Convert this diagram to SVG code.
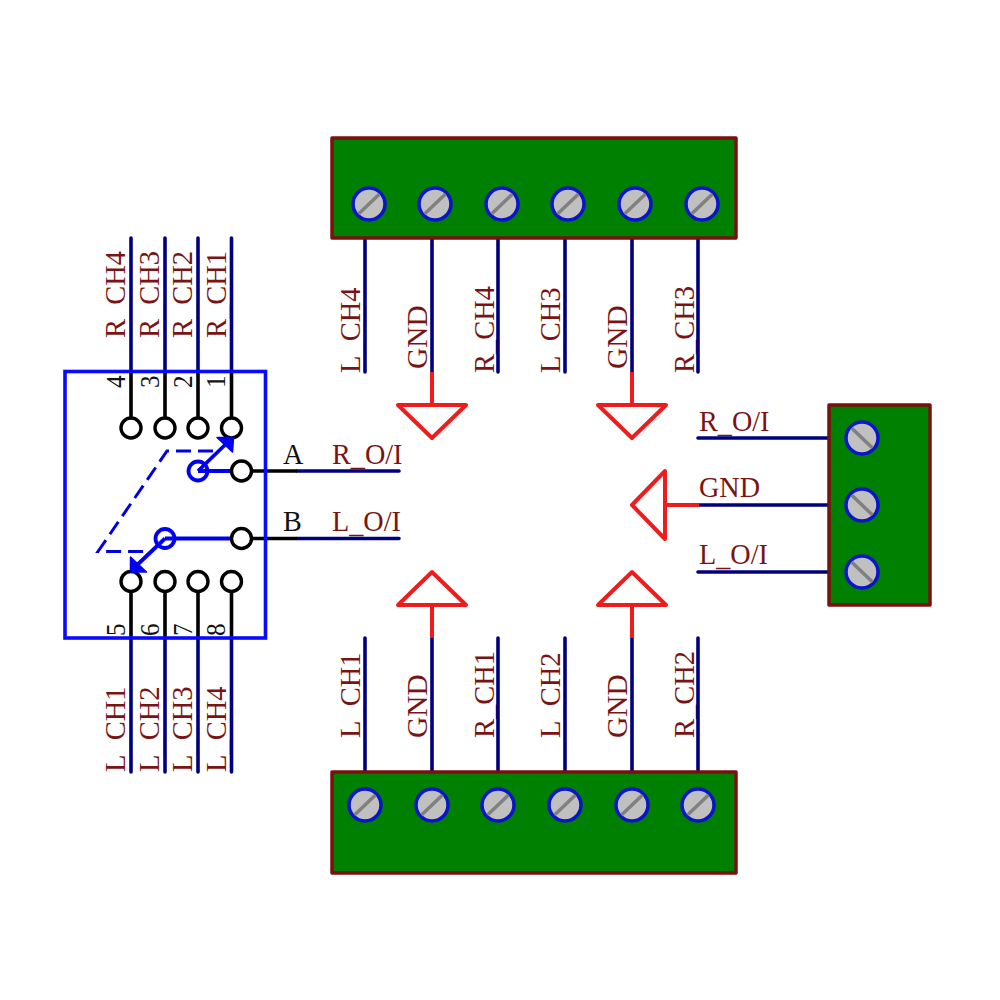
<svg xmlns="http://www.w3.org/2000/svg" width="1000" height="1000" viewBox="0 0 1000 1000">
<style>
text{font-family:"Liberation Serif","Times New Roman",serif;font-size:30px;fill:#7a1414}
.num{font-size:28px;fill:#111}
.blk{fill:#111}
.box{fill:#008000;stroke:#7a1010;stroke-width:3.5;stroke-linejoin:round}
.scr{fill:#c0c0c0;stroke:#0a14c8;stroke-width:3.5}
.sl{stroke:#808080;stroke-width:3.5;fill:none}
.w{stroke:#00007f;stroke-width:3.6;stroke-linecap:round;fill:none}
.r{stroke:#ee1c1c;stroke-width:4;fill:none;stroke-linejoin:round}
.k{stroke:#000;stroke-width:3.6;fill:none}
.pin{fill:#fff;stroke:#000;stroke-width:3.4}
.b{stroke:#0000f0;stroke-width:3.8;fill:none}
.bf{fill:#0000f0;stroke:#0000f0;stroke-width:1.5;stroke-linejoin:round}
.d{stroke:#0000e0;stroke-width:3;fill:none;stroke-dasharray:15 7}
</style>
<defs>
<g id="sa"><circle class="scr" r="16"/><path class="sl" d="M-10.500 10L10.500-10"/></g>
<g id="sb"><circle class="scr" r="16"/><path class="sl" d="M-10.500-10L10.500 10"/></g>
</defs>
<g id="labels">
<text transform="translate(125 338) rotate(-90) scale(.95 1)">R<tspan dy="3">_</tspan><tspan dy="-3">CH4</tspan></text>
<text transform="translate(159 338) rotate(-90) scale(.95 1)">R<tspan dy="3">_</tspan><tspan dy="-3">CH3</tspan></text>
<text transform="translate(192 338) rotate(-90) scale(.95 1)">R<tspan dy="3">_</tspan><tspan dy="-3">CH2</tspan></text>
<text transform="translate(226 338) rotate(-90) scale(.95 1)">R<tspan dy="2">_</tspan><tspan dy="-2">CH1</tspan></text>
<text transform="translate(125 772) rotate(-90) scale(.95 1)">L<tspan dy="3">_</tspan><tspan dy="-3">CH1</tspan></text>
<text transform="translate(159 772) rotate(-90) scale(.95 1)">L<tspan dy="3">_</tspan><tspan dy="-3">CH2</tspan></text>
<text transform="translate(192 772) rotate(-90) scale(.95 1)">L<tspan dy="3">_</tspan><tspan dy="-3">CH3</tspan></text>
<text transform="translate(226 772) rotate(-90) scale(.95 1)">L<tspan dy="2">_</tspan><tspan dy="-2">CH4</tspan></text>
<text transform="translate(360 373) rotate(-90) scale(.95 1)">L<tspan dy="1.500">_</tspan><tspan dy="-1.500">CH4</tspan></text>
<text transform="translate(427 369) rotate(-90) scale(.98 1)">GND</text>
<text transform="translate(494 373) rotate(-90) scale(.95 1)">R_CH4</text>
<text transform="translate(560 373) rotate(-90) scale(.95 1)">L<tspan dy="1.500">_</tspan><tspan dy="-1.500">CH3</tspan></text>
<text transform="translate(627 369) rotate(-90) scale(.98 1)">GND</text>
<text transform="translate(694 373) rotate(-90) scale(.95 1)">R_CH3</text>
<text transform="translate(360 738) rotate(-90) scale(.95 1)">L<tspan dy="1.500">_</tspan><tspan dy="-1.500">CH1</tspan></text>
<text transform="translate(427 738) rotate(-90) scale(.98 1)">GND</text>
<text transform="translate(494 738) rotate(-90) scale(.95 1)">R_CH1</text>
<text transform="translate(560 738) rotate(-90) scale(.95 1)">L<tspan dy="1.500">_</tspan><tspan dy="-1.500">CH2</tspan></text>
<text transform="translate(627 738) rotate(-90) scale(.98 1)">GND</text>
<text transform="translate(694 738) rotate(-90) scale(.95 1)">R_CH2</text>
<text transform="translate(332 464) scale(.94 1)">R<tspan dy="2">_</tspan><tspan dy="-2">O/I</tspan></text>
<text transform="translate(332 531) scale(.94 1)">L<tspan dy="2">_</tspan><tspan dy="-2">O/I</tspan></text>
<text transform="translate(699 431) scale(.94 1)">R<tspan dy="2">_</tspan><tspan dy="-2">O/I</tspan></text>
<text transform="translate(699 497) scale(.94 1)">GND</text>
<text transform="translate(699 564) scale(.94 1)">L<tspan dy="2">_</tspan><tspan dy="-2">O/I</tspan></text>
</g>
<g id="connectors">
<path class="w" d="M131 238V371M165 238V371M198 238V371M231.500 238V371M131 638V772M165 638V772M198 638V772M231.500 638V772"/>
<path class="w" d="M365 238V372M432 238V372M498 238V372M565 238V372M632 238V372M698 238V372"/>
<path class="w" d="M365 638V772M432 638V772M498 638V772M565 638V772M632 638V772M698 638V772"/>
<path class="w" d="M297 471H399M297 538.500H399M698 438H832M698 505H832M698 572H832"/>
<path class="r" id="gnd-stems" d="M432 372V405M632 372V405M432 605V638M632 605V638M665 505H699"/>
</g>
<g id="gnd-1"><path class="r" d="M398 405H466L432 438Z"/></g>
<g id="gnd-2"><path class="r" d="M598 405H666L632 438Z"/></g>
<g id="gnd-3"><path class="r" d="M398 605H466L432 572Z"/></g>
<g id="gnd-4"><path class="r" d="M598 605H666L632 572Z"/></g>
<g id="gnd-5"><path class="r" d="M665 471V539L632 505Z"/></g>
<g id="terminal-top">
<rect class="box" x="332" y="138" width="404" height="100"/>
<use href="#sa" x="369" y="204"/><use href="#sa" x="435" y="204"/><use href="#sa" x="502" y="204"/><use href="#sa" x="568" y="204"/><use href="#sa" x="635" y="204"/><use href="#sa" x="702" y="204"/>
</g>
<g id="terminal-bottom">
<rect class="box" x="332" y="772" width="404" height="101"/>
<use href="#sa" x="365" y="805"/><use href="#sa" x="432" y="805"/><use href="#sa" x="498" y="805"/><use href="#sa" x="565" y="805"/><use href="#sa" x="632" y="805"/><use href="#sa" x="698" y="805"/>
</g>
<g id="terminal-right">
<rect class="box" x="829" y="405" width="101" height="200"/>
<use href="#sb" x="862" y="438"/><use href="#sb" x="862" y="505"/><use href="#sb" x="862" y="572"/>
</g>
<g id="switch">
<path class="k" d="M131 371V418M165 371V418M198 371V418M231.500 371V418M131 592V638M165 592V638M198 592V638M231.500 592V638M252 471H297M252 538.500H297"/>
<rect x="65" y="371.500" width="200.500" height="266.500" fill="none" stroke="#0a0aff" stroke-width="3.6"/>
<circle class="pin" cx="131" cy="428" r="10"/><circle class="pin" cx="165" cy="428" r="10"/><circle class="pin" cx="198" cy="428" r="10"/><circle class="pin" cx="231.500" cy="428" r="10"/>
<circle class="pin" cx="131" cy="581.500" r="10"/><circle class="pin" cx="165" cy="581.500" r="10"/><circle class="pin" cx="198" cy="581.500" r="10"/><circle class="pin" cx="231.500" cy="581.500" r="10"/>
<path class="d" d="M213 451H167L98 551.500H152"/>
<path class="b" d="M198 471L228 442M198 471H232M165 538.500L135 567M165 538.500H232"/>
<circle class="b" cx="198" cy="471" r="9.500"/><circle class="b" cx="165" cy="538.500" r="9.500"/>
<path class="bf" d="M217 437.500H233.500L232.500 452Z"/><path class="bf" d="M130.500 557L130.500 572H146.500Z"/>
<circle class="pin" cx="241.500" cy="471" r="10"/><circle class="pin" cx="241.500" cy="538.500" r="10"/>
<text class="num" transform="translate(125 388) rotate(-90) scale(.9 1)">4</text>
<text class="num" transform="translate(159 388) rotate(-90) scale(.9 1)">3</text>
<text class="num" transform="translate(192 388) rotate(-90) scale(.9 1)">2</text>
<text class="num" transform="translate(225 388) rotate(-90) scale(.9 1)">1</text>
<text class="num" transform="translate(125 636) rotate(-90) scale(.9 1)">5</text>
<text class="num" transform="translate(159 636) rotate(-90) scale(.9 1)">6</text>
<text class="num" transform="translate(192 636) rotate(-90) scale(.9 1)">7</text>
<text class="num" transform="translate(225 636) rotate(-90) scale(.9 1)">8</text>
<text class="blk" transform="translate(283 464) scale(.94 1)">A</text>
<text class="blk" transform="translate(283 531) scale(.94 1)">B</text>
</g>
</svg>
